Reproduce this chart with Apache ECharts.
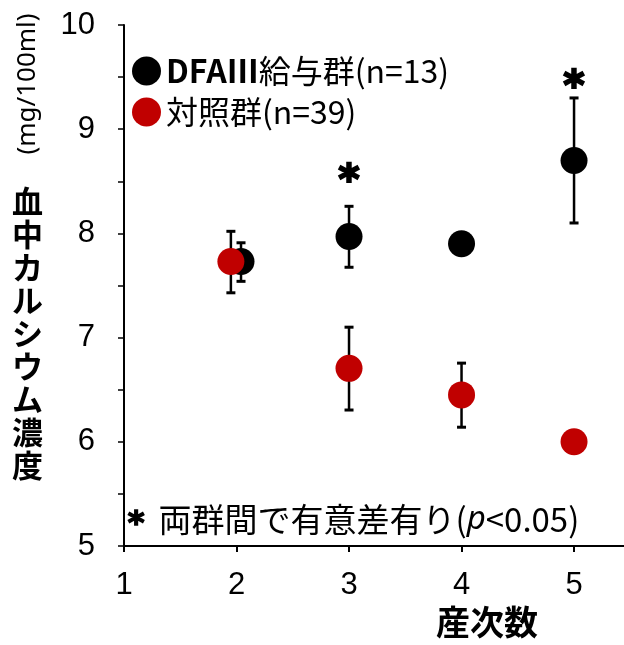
<!DOCTYPE html>
<html><head><meta charset="utf-8">
<script src="https://cdn.jsdelivr.net/npm/echarts@6/dist/echarts.min.js"></script>
<style>html,body{margin:0;padding:0;background:#fff}#c{width:624px;height:645px}</style>
</head><body><div id="c"></div>
<script>
// Data
const dfaX    = [2.04, 3, 4, 5];
const dfaMean = [7.73, 7.97, 7.90, 8.70];
const dfaLow  = [7.54, 7.675, null, 8.10];
const dfaHigh = [7.91, 8.26, null, 9.30];
const ctlX    = [1.95, 3, 4, 5];
const ctlMean = [7.73, 6.705, 6.45, 6.00];
const ctlLow  = [7.43, 6.305, 6.14, null];
const ctlHigh = [8.02, 7.10, 6.755, null];
const sigX = [3, 5];
const sigY = [8.58, 9.49];
const xTicks = [1, 2, 3, 4, 5];
const yLabels = [5, 6, 7, 8, 9, 10];
const yTicks = [5, 5.5, 6, 6.5, 7, 7.5, 8, 8.5, 9, 9.5, 10];
const seriesNames = ['DFAⅢ給与群(n=13)', '対照群(n=39)'];

const numFont = "'Liberation Sans Narrow','Liberation Sans','Arial Narrow',sans-serif";
const cjk = "'Noto Sans CJK JP','Noto Sans',sans-serif";

function errData(xs, lo, hi) {
  const out = [];
  xs.forEach((x, i) => { if (lo[i] != null) out.push([x, lo[i], hi[i]]); });
  return out;
}
function errRender(params, api) {
  const x = api.value(0);
  const p1 = api.coord([x, api.value(1)]);
  const p2 = api.coord([x, api.value(2)]);
  const hw = 4.5;
  return { type: 'group', children: [
    { type: 'line', shape: { x1: p1[0], y1: p1[1], x2: p2[0], y2: p2[1] }, style: { stroke: '#000', lineWidth: 2.5 } },
    { type: 'line', shape: { x1: p1[0]-hw, y1: p1[1], x2: p1[0]+hw, y2: p1[1] }, style: { stroke:'#000', lineWidth: 3 } },
    { type: 'line', shape: { x1: p2[0]-hw, y1: p2[1], x2: p2[0]+hw, y2: p2[1] }, style: { stroke:'#000', lineWidth: 3 } }
  ]};
}
function starRender(params, api) {
  const p = api.coord([api.value(0), api.value(1)]);
  return { type: 'text', x: p[0], y: p[1] + 10,
    style: { text: '*', fill: '#000', stroke: '#000', lineWidth: 2.2,
             font: "bold 40px 'DejaVu Sans',sans-serif", align: 'center', verticalAlign: 'middle' } };
}

const chart = echarts.init(document.getElementById('c'));
chart.setOption({
  animation: false,
  grid: { left: 124, top: 25, right: 0, bottom: 99 },
  xAxis: {
    type: 'value', min: 1, max: 5.444,
    splitLine: { show: false },
    axisLine: { lineStyle: { color: '#000', width: 2 } },
    axisTick: { show: true, length: 6, inside: false, customValues: xTicks, lineStyle: { color: '#000', width: 2 } },
    axisLabel: { customValues: xTicks, color: '#000', fontSize: 31, fontFamily: numFont, margin: 24 }
  },
  yAxis: {
    type: 'value', min: 5, max: 10,
    splitLine: { show: false },
    axisLine: { show: true, lineStyle: { color: '#000', width: 2 } },
    axisTick: { show: true, length: 6, customValues: yTicks, lineStyle: { color: '#000', width: 1.5 } },
    axisLabel: { customValues: yLabels, color: '#000', fontSize: 31, fontFamily: numFont, margin: 29 }
  },
  legend: {
    orient: 'vertical', left: 127, top: 50,
    itemWidth: 29, itemHeight: 29, itemGap: 9,
    icon: 'circle',
    data: seriesNames,
    formatter: function (n) {
      if (n === seriesNames[0]) return '{b|DFAⅢ}{n|給与群(n=13)}';
      return '{n|' + n + '}';
    },
    textStyle: {
      padding: [0, 0, 0, 0],
      rich: {
        b: { fontSize: 32, fontWeight: 'bold', fontFamily: cjk, color: '#000' },
        n: { fontSize: 32, fontFamily: cjk, color: '#000' }
      }
    }
  },
  series: [
    { type: 'custom', name: 'errDFA', renderItem: errRender, data: errData(dfaX, dfaLow, dfaHigh), z: 1, silent: true },
    { type: 'scatter', name: seriesNames[0], data: dfaX.map((x, i) => [x, dfaMean[i]]),
      symbolSize: 27, itemStyle: { color: '#000', opacity: 1 }, z: 2 },
    { type: 'custom', name: 'errCtl', renderItem: errRender, data: errData(ctlX, ctlLow, ctlHigh), z: 3, silent: true },
    { type: 'scatter', name: seriesNames[1], data: ctlX.map((x, i) => [x, ctlMean[i]]),
      symbolSize: 27, itemStyle: { color: '#C00000', opacity: 1 }, z: 4 },
    { type: 'custom', name: 'sig', renderItem: starRender, data: sigX.map((x, i) => [x, sigY[i]]), z: 5, silent: true }
  ],
  graphic: [
    { type: 'text', left: 12, top: 185,
      style: { text: '血\n中\nカ\nル\nシ\nウ\nム\n濃\n度', font: "bold 31px 'Noto Sans CJK JP'", fill: '#000', lineHeight: 33, align: 'center' } },
    { type: 'text', x: 28, y: 84, rotation: Math.PI / 2, originX: 0, originY: 0,
      style: { text: '(mg/100ml)', font: "26px 'Noto Sans','Noto Sans CJK JP'", fill: '#000', align: 'center', verticalAlign: 'middle' } },
    { type: 'text', left: 436, top: 605,
      style: { text: '産次数', font: "bold 34px 'Noto Sans CJK JP'", fill: '#000' } },
    { type: 'text', left: 127, top: 503,
      style: {
        text: '{a|*}{t|両群間で有意差有り(}{i|p}{t|<0.05)}',
        rich: {
          a: { fontSize: 32, fontWeight: 'bold', fontFamily: "'DejaVu Sans',sans-serif", fill: '#000', stroke: '#000', lineWidth: 1.5, padding: [10,14,0,0] },
          t: { fontSize: 33, fontFamily: cjk, fill: '#000' },
          i: { fontSize: 33, fontStyle: 'italic', fontFamily: "'Noto Sans',sans-serif", fill: '#000' }
        }
      } }
  ]
});
</script>
</body></html>
